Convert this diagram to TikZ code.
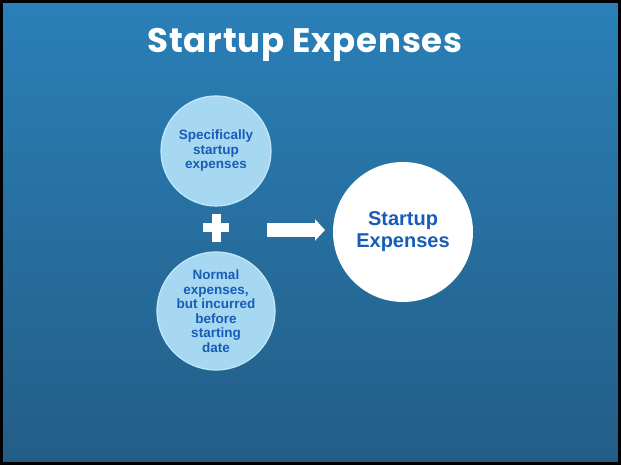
\documentclass[tikz,border=0pt]{standalone}
\usepackage{fontspec}
\setmainfont{Liberation Sans}
\newfontfamily\titlefont{Poppins}[LetterSpace=2.5]
\usetikzlibrary{arrows.meta}
\definecolor{bgtop}{RGB}{42,128,184}
\definecolor{bgbot}{RGB}{35,93,134}
\definecolor{bubblefill}{RGB}{166,216,242}
\definecolor{bubbleedge}{RGB}{196,232,250}
\definecolor{inkblue}{RGB}{24,92,182}
\tikzstyle{smallbub}=[circle,fill=bubblefill,draw=bubbleedge,line width=1.2pt,
  inner sep=0pt,align=center,text=inkblue,
  font=\fontsize{13.5}{14.5}\selectfont\bfseries]
\tikzstyle{bigbub}=[circle,fill=white,minimum size=140pt,inner sep=0pt,
  align=center,text=inkblue,font=\fontsize{20}{22}\selectfont\bfseries]
\tikzstyle{blockarr}=[white,line width=13pt,-{Triangle[length=10pt,width=21pt]}]

\begin{document}
\begin{tikzpicture}[x=1pt,y=-1pt]
  % backdrop and frame
  \useasboundingbox (0,0) rectangle (621,465);
  \shade[top color=bgtop,bottom color=bgbot] (0,0) rectangle (621,465);
  \draw[black,line width=3pt] (1.5,1.5) rectangle (619.5,463.5);

  \node[text=white,anchor=base,font=\titlefont\bfseries\fontsize{34}{36}\selectfont]
    (title) at (305,53) {Startup Expenses};

  \node[smallbub,minimum size=110pt] (specific) at (216,151)
    {Specifically\\startup\\expenses};
  \node[smallbub,minimum size=118pt] (normal) at (216,311)
    {Normal\\expenses,\\but incurred\\before\\starting\\date};
  \node[bigbub] (total) at (403,232) {Startup\\Expenses};

  % plus sign
  \coordinate (plus) at (216,228);
  \fill[white] (plus) ++(-13,-4.5) rectangle ++(26,9);
  \fill[white] (plus) ++(-4.5,-13.5) rectangle ++(9,27);

  \coordinate (arrtail) at (267,230);
  \coordinate (arrtip) at (325,230);
  \draw[blockarr] (arrtail) -- (arrtip);
\end{tikzpicture}
\end{document}
